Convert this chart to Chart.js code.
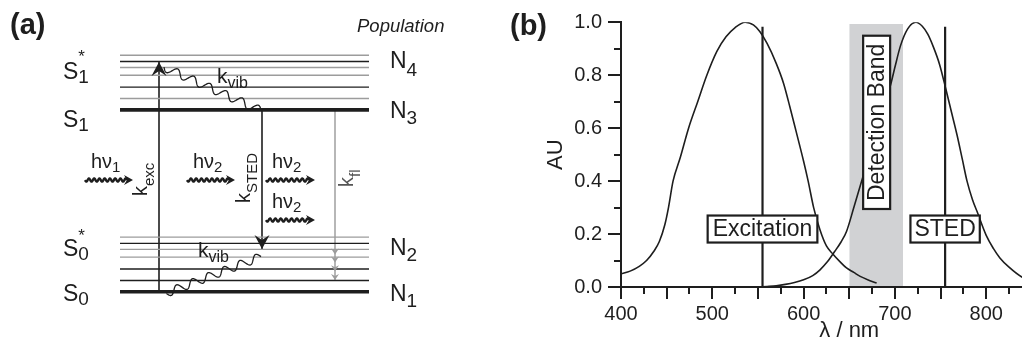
<!DOCTYPE html>
<html>
<head>
<meta charset="utf-8">
<title>STED energy levels and spectra</title>
<script src="https://cdn.jsdelivr.net/npm/chart.js@4.4.1/dist/chart.umd.min.js"></script>
<style>
  html, body { margin: 0; padding: 0; background: #fff; width: 1022px; height: 343px; overflow: hidden; }
  canvas { position: absolute; top: 0; }
  #levels  { left: 0; }
  #spectra { left: 500px; }
</style>
</head>
<body>
<canvas id="levels" width="500" height="343" style="width:500px;height:343px"></canvas>
<canvas id="spectra" width="600" height="343" style="width:600px;height:343px"></canvas>
<script>
/* ---- (b) spectra: wavelength (nm) vs normalised intensity ---- */
const excWavelength = [400, 410, 420, 428, 436, 442, 448, 452, 457, 465, 474, 484, 494, 505, 515, 525, 536,
                       545, 552, 560, 570, 578, 585, 592, 600, 605, 611, 618, 625, 632, 640, 647, 655, 662, 672, 680];
const excIntensity  = [0.05, 0.06, 0.078, 0.1, 0.135, 0.172, 0.235, 0.3, 0.4, 0.49, 0.6, 0.7, 0.8, 0.89, 0.945, 0.98, 1.0,
                       0.99, 0.965, 0.92, 0.845, 0.77, 0.68, 0.585, 0.475, 0.4, 0.3, 0.215, 0.155, 0.125, 0.095, 0.072, 0.055, 0.04, 0.025, 0.015];
const emWavelength  = [552, 560, 570, 580, 590, 600, 610, 618, 626, 634, 641, 647, 655, 664, 672, 680, 688, 695, 700,
                       706, 714, 723, 730, 736, 742, 749, 756, 762, 768, 774, 779, 785, 790, 800, 808, 815, 825, 839, 850, 860];
const emIntensity   = [0.0, 0.002, 0.005, 0.01, 0.017, 0.027, 0.043, 0.065, 0.095, 0.134, 0.17, 0.21, 0.3, 0.405, 0.5, 0.6, 0.69, 0.76, 0.83,
                       0.91, 0.975, 1.0, 0.985, 0.955, 0.908, 0.84, 0.745, 0.66, 0.575, 0.48, 0.4, 0.33, 0.285, 0.195, 0.145, 0.11, 0.075, 0.038, 0.025, 0.017];
const laserLines    = [555, 755];          // excitation, STED
const laserTop      = 0.983;
const detectionBand = [650, 709];
const detectionTop  = 0.994;
const xTickLabels   = [400, 500, 600, 700, 800, 900];
const yTickLabels   = [0.0, 0.2, 0.4, 0.6, 0.8, 1.0];
const boxLabels = [
  { text: 'Excitation',     at: [555, 0.219], pad: 5, vertical: false },
  { text: 'STED',           at: [755, 0.219], pad: 4, vertical: false },
  { text: 'Detection Band', at: [680, 0.622], pad: 8, vertical: true }
];

/* ---- (a) Jablonski diagram: energy in arbitrary units, S0 = 0, S1 = 10 ---- */
const groundLevel  = 0;
const excitedLevel = 10;
const vibLevels    = [0.62, 1.25, 1.9, 2.33, 2.66, 3.0];
const levelSpan    = [120, 369];
const transitions  = [
  { x: 159, from: 0,  to: 12.63, kind: 'exc' },
  { x: 262, from: 10, to: 2.35,  kind: 'sted' },
  { x: 335, from: 10, to: 0.62,  kind: 'fl' }
];
const cascadeHeads = [2.05, 1.6, 1.12, 0.64];
const relaxations  = [
  { from: [164, 12.35], to: [261, 9.95] },
  { from: [261, 1.93],  to: [166, -0.08] }
];
const photons = [
  { x: [85, 133],  e: 6.14, sub: '1' },
  { x: [187, 235], e: 6.14, sub: '2' },
  { x: [266, 315], e: 6.14, sub: '2' },
  { x: [266, 315], e: 3.94, sub: '2' }
];

const ink  = '#1e1e1e';
const grey = '#9c9c9c';
const sans = '"Liberation Sans", Arial, sans-serif';

// tick labels look condensed; use the narrow face when it exists
const NARROW = (function () {
  const c = document.createElement('canvas').getContext('2d');
  c.font = '40px monospace';
  const a = c.measureText('Nsted 0123').width;
  c.font = '40px "Liberation Sans Narrow", monospace';
  return c.measureText('Nsted 0123').width !== a;
})();
const tickFont = NARROW ? { family: '"Liberation Sans Narrow", ' + sans, size: 22 }
                        : { family: sans, size: 20 };

function pairs(xs, ys) { return xs.map(function (x, i) { return { x: x, y: ys[i] }; }); }

/* ── helpers for the diagram ─────────────────────────────── */
function head(ctx, x, y, ux, uy, len, half, notch, color) {
  const nx = -uy, ny = ux;
  const bx = x - ux * len, by = y - uy * len;
  ctx.fillStyle = color;
  ctx.beginPath();
  ctx.moveTo(x, y);
  ctx.lineTo(bx + nx * half, by + ny * half);
  ctx.lineTo(x - ux * (len - notch), y - uy * (len - notch));
  ctx.lineTo(bx - nx * half, by - ny * half);
  ctx.closePath();
  ctx.fill();
}

function wavy(ctx, x0, y0, x1, y1, period, amp, width, color) {
  const dx = x1 - x0, dy = y1 - y0, len = Math.hypot(dx, dy);
  const ux = dx / len, uy = dy / len;
  const per = len / Math.max(1, Math.round(len / period));
  ctx.strokeStyle = color;
  ctx.lineWidth = width;
  ctx.lineJoin = 'round';
  ctx.beginPath();
  for (let s = 0; s <= len + 0.01; s += 0.5) {
    const w = amp * Math.sin(2 * Math.PI * s / per);
    const px = x0 + ux * s - uy * w, py = y0 + uy * s + ux * w;
    if (s === 0) ctx.moveTo(px, py); else ctx.lineTo(px, py);
  }
  ctx.stroke();
}

// parts: [text, size, baseline shift, stacked over previous part]
function rich(ctx, x, y, parts, rot, color) {
  ctx.save();
  ctx.translate(x, y);
  if (rot) ctx.rotate(rot);
  ctx.fillStyle = color || ink;
  ctx.textAlign = 'left';
  ctx.textBaseline = 'alphabetic';
  let cx = 0, lastX = 0;
  parts.forEach(function (p) {
    ctx.font = p[1] + 'px ' + sans;
    if (p[3]) { ctx.fillText(p[0], lastX, p[2] || 0); return; }
    ctx.fillText(p[0], cx, p[2] || 0);
    lastX = cx;
    cx += ctx.measureText(p[0]).width;
  });
  ctx.restore();
}

const stateLabels = [
  { x: 63,  e: 11.70, parts: [['S', 23], ['1', 19, 4], ['*', 17, -17, true]] },
  { x: 63,  e: 9.06,  parts: [['S', 23], ['1', 19, 4]] },
  { x: 63,  e: 1.96,  parts: [['S', 23], ['0', 19, 4], ['*', 17, -15, true]] },
  { x: 63,  e: -0.51, parts: [['S', 23], ['0', 19, 4]] },
  { x: 390, e: 12.30, parts: [['N', 23], ['4', 19, 8]] },
  { x: 390, e: 9.55,  parts: [['N', 23], ['3', 19, 6]] },
  { x: 390, e: 2.02,  parts: [['N', 23], ['2', 19, 6]] },
  { x: 390, e: -0.51, parts: [['N', 23], ['1', 19, 6]] }
];
const rateLabels = [
  { x: 217, e: 11.48, parts: [['k', 21], ['vib', 16, 5]] },
  { x: 198, e: 1.91,  parts: [['k', 21], ['vib', 16, 5]] },
  { x: 147, e: 5.26,  parts: [['k', 20], ['exc', 15, 7]],  rot: -Math.PI / 2 },
  { x: 250, e: 4.88,  parts: [['k', 20], ['STED', 15, 7]], rot: -Math.PI / 2 },
  { x: 353, e: 5.76,  parts: [['k', 20], ['fl', 15, 7]],   rot: -Math.PI / 2, color: '#555' }
];

const diagramDecor = {
  id: 'diagramDecor',
  afterDatasetsDraw: function (chart) {
    const ctx = chart.ctx;
    const X = function (v) { return chart.scales.x.getPixelForValue(v); };
    const Y = function (v) { return chart.scales.y.getPixelForValue(v); };
    ctx.save();

    transitions.forEach(function (t) {
      const dir = t.to > t.from ? -1 : 1;
      if (t.kind === 'fl') {
        cascadeHeads.forEach(function (e) { head(ctx, X(t.x), Y(e), 0, dir, 6, 4, 2, grey); });
      } else {
        head(ctx, X(t.x), Y(t.to), 0, dir, 14, 7.5, 5, ink);
      }
    });

    relaxations.forEach(function (r) {
      wavy(ctx, X(r.from[0]), Y(r.from[1]), X(r.to[0]), Y(r.to[1]), 17, 4, 1.3, ink);
    });

    photons.forEach(function (p) {
      const y = Y(p.e), x0 = X(p.x[0]), x1 = X(p.x[1]);
      wavy(ctx, x0, y, x1 - 6, y, 5.2, 1.6, 2.4, ink);
      head(ctx, x1, y, 1, 0, 9, 5, 3, ink);
      rich(ctx, x0 + 6, y - 12, [['h\u03bd', 20], [p.sub, 15, 4]]);
    });

    stateLabels.forEach(function (l) { rich(ctx, X(l.x), Y(l.e), l.parts); });
    rateLabels.forEach(function (l) { rich(ctx, X(l.x), Y(l.e), l.parts, l.rot, l.color); });

    ctx.fillStyle = ink;
    ctx.font = 'italic 18.5px ' + sans;
    ctx.fillText('Population', X(357), Y(14.30));
    ctx.font = 'bold 29px ' + sans;
    ctx.fillText('(a)', X(10), Y(14.17));
    ctx.restore();
  }
};

const levelDatasets = [];
[groundLevel, excitedLevel].forEach(function (base, m) {
  const shades = m === 0 ? [ink, ink, grey, grey, ink, grey] : [grey, ink, grey, grey, ink, grey];
  levelDatasets.push({ data: pairs(levelSpan, [base, base]), borderColor: ink, borderWidth: 3.6 });
  vibLevels.forEach(function (v, i) {
    levelDatasets.push({ data: pairs(levelSpan, [base + v, base + v]), borderColor: shades[i], borderWidth: 1.4 });
  });
});
transitions.forEach(function (t) {
  levelDatasets.push({ data: pairs([t.x, t.x], [t.from, t.to]), borderColor: t.kind === 'fl' ? '#a6a6a6' : ink, borderWidth: 1.6 });
});

new Chart(document.getElementById('levels'), {
  type: 'line',
  data: { datasets: levelDatasets },
  options: {
    responsive: false, animation: false, events: [],
    layout: { padding: 0 },
    elements: { point: { radius: 0 }, line: { borderCapStyle: 'butt', tension: 0 } },
    plugins: { legend: { display: false }, tooltip: { enabled: false } },
    scales: {
      x: { type: 'linear', display: false, min: 0, max: 500 },
      y: { type: 'linear', display: false, min: -2.82, max: 16.04 }
    }
  },
  plugins: [diagramDecor]
});

/* ── (b) spectra chart ───────────────────────────────────── */
const minorTicks = {
  id: 'minorTicks',
  afterDraw: function (chart) {
    const ctx = chart.ctx, x = chart.scales.x, y = chart.scales.y;
    ctx.save();
    ctx.strokeStyle = ink;
    ctx.lineWidth = 2;
    ctx.beginPath();
    x.ticks.forEach(function (t) {
      if (t.value % 50 === 0) return;
      const p = Math.round(x.getPixelForValue(t.value));
      ctx.moveTo(p, x.top); ctx.lineTo(p, x.top + 7);
    });
    y.ticks.forEach(function (t) {
      if (Math.round(t.value * 10) % 2 === 0) return;
      const p = Math.round(y.getPixelForValue(t.value));
      ctx.moveTo(y.right, p); ctx.lineTo(y.right - 7, p);
    });
    ctx.stroke();
    ctx.restore();
  }
};

const bandLabels = {
  id: 'bandLabels',
  afterDatasetsDraw: function (chart) {
    const ctx = chart.ctx, x = chart.scales.x, y = chart.scales.y;
    boxLabels.forEach(function (b) {
      ctx.save();
      ctx.font = '23px ' + sans;
      const w = ctx.measureText(b.text).width + 2 * b.pad, h = 27;
      ctx.translate(x.getPixelForValue(b.at[0]), y.getPixelForValue(b.at[1]));
      if (b.vertical) ctx.rotate(-Math.PI / 2);
      ctx.fillStyle = '#fff';
      ctx.fillRect(-w / 2, -h / 2, w, h);
      ctx.strokeStyle = ink;
      ctx.lineWidth = 2.2;
      ctx.strokeRect(-w / 2, -h / 2, w, h);
      ctx.fillStyle = ink;
      ctx.textAlign = 'center';
      ctx.textBaseline = 'middle';
      ctx.fillText(b.text, 0, 1);
      ctx.restore();
    });
    ctx.save();
    ctx.fillStyle = ink;
    ctx.font = 'bold 29px ' + sans;
    ctx.fillText('(b)', 10, 35);
    ctx.restore();
  }
};

const specDatasets = [
  { label: 'Detection band', data: pairs(detectionBand, [detectionTop, detectionTop]),
    fill: 'origin', backgroundColor: '#d1d2d4', borderWidth: 0, order: 5 },
  { label: 'Excitation spectrum', data: pairs(excWavelength, excIntensity),
    borderColor: ink, borderWidth: 1.6, cubicInterpolationMode: 'monotone', order: 2 },
  { label: 'Emission spectrum', data: pairs(emWavelength, emIntensity),
    borderColor: ink, borderWidth: 1.6, cubicInterpolationMode: 'monotone', order: 2 }
];
laserLines.forEach(function (l) {
  specDatasets.push({ label: 'Laser ' + l, data: pairs([l, l], [0, laserTop]), borderColor: ink, borderWidth: 2.2, order: 1 });
});

new Chart(document.getElementById('spectra'), {
  type: 'line',
  data: { datasets: specDatasets },
  options: {
    responsive: false, animation: false, events: [],
    layout: { padding: { top: 22.3, right: 22.5, bottom: 0, left: 0 } },
    elements: { point: { radius: 0 }, line: { borderCapStyle: 'butt' } },
    plugins: { legend: { display: false }, tooltip: { enabled: false } },
    scales: {
      x: {
        type: 'linear', min: 400, max: 900,
        afterFit: function (s) { s.height = 56; },
        ticks: {
          stepSize: 25, autoSkip: false, maxRotation: 0, padding: 3,
          font: tickFont, color: ink,
          callback: function (v) { return xTickLabels.indexOf(v) >= 0 ? String(v) : ''; }
        },
        grid: {
          drawOnChartArea: false, drawTicks: true, tickLength: 12, tickWidth: 2, lineWidth: 2,
          tickColor: function (c) { return c.tick && c.tick.value % 50 === 0 ? ink : 'rgba(0,0,0,0)'; }
        },
        border: { display: true, color: ink, width: 2, z: 1 },
        title: { display: true, text: '\u03bb / nm', color: ink, font: { family: sans, size: 22 }, padding: { top: 0, bottom: -1 } }
      },
      y: {
        type: 'linear', min: 0, max: 1,
        afterFit: function (s) { s.width = 121; },
        ticks: {
          stepSize: 0.1, autoSkip: false, padding: 6,
          font: tickFont, color: ink,
          callback: function (v) {
            return yTickLabels.some(function (t) { return Math.abs(t - v) < 1e-6; }) ? v.toFixed(1) : '';
          }
        },
        grid: {
          drawOnChartArea: false, drawTicks: true, tickLength: 13, tickWidth: 2, lineWidth: 2,
          tickColor: function (c) { return c.tick && Math.round(c.tick.value * 10) % 2 === 0 ? ink : 'rgba(0,0,0,0)'; }
        },
        border: { display: true, color: ink, width: 2, z: 1 },
        title: { display: true, text: 'AU', color: ink, font: { family: sans, size: 22 }, padding: { top: 43, bottom: 0 } }
      }
    }
  },
  plugins: [minorTicks, bandLabels]
});
</script>
</body>
</html>
